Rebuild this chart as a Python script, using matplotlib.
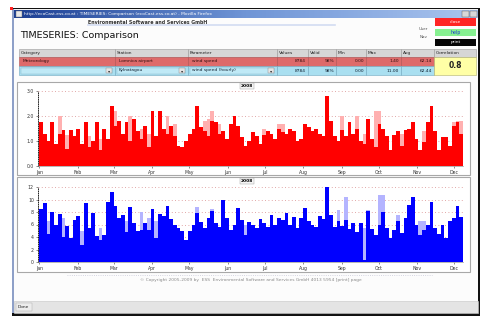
import numpy as np
import matplotlib
matplotlib.use('Agg')
import matplotlib.pyplot as plt
from matplotlib.patches import Rectangle

# daily wind speed, read in 3-day steps from the screenshot
top_dark = [1.75, 1.3, 1.0, 1.75, 0.9, 1.3, 1.45, 0.7, 1.45, 1.2,
            1.5, 0.9, 1.75, 0.75, 1.0, 1.75, 0.65, 1.5, 1.1, 2.4,
            1.6, 1.8, 1.3, 1.75, 1.0, 1.9, 1.4, 1.1, 1.6, 0.75,
            2.2, 1.2, 2.2, 1.5, 1.3, 1.6, 1.2, 0.8, 0.75, 1.0,
            1.3, 1.5, 2.4, 1.55, 1.4, 1.2, 1.8, 1.75, 1.3, 1.4,
            1.1, 1.7, 2.0, 1.6, 1.15, 0.8, 1.0, 1.35, 1.2, 0.9,
            1.25, 1.4, 1.3, 1.1, 1.5, 1.35, 1.3, 1.5, 1.4, 1.0,
            1.1, 1.7, 1.55, 1.4, 1.5, 1.3, 1.2, 2.8, 1.8, 1.2,
            1.0, 1.45, 1.2, 1.75, 1.3, 1.5, 1.0, 0.9, 1.9, 1.1,
            0.75, 1.7, 1.5, 1.2, 0.65, 1.25, 1.4, 0.8, 1.45, 1.5,
            1.75, 1.1, 0.65, 0.95, 1.75, 2.4, 1.4, 0.65, 1.15, 1.15,
            0.8, 1.6, 1.75, 1.3]
top_light_bin = [5, 7, 13, 16, 20, 24, 27, 29, 34, 36, 44, 45, 46, 48, 60, 64, 65,
                 81, 85, 87, 90, 91, 97, 103, 111, 112, 113]
top_light_val = [2.0, 1.25, 1.2, 1.1, 2.2, 2.0, 1.5, 1.3, 2.0, 1.7, 1.8, 1.9, 2.2, 1.7, 1.5, 1.7, 1.7,
                 2.0, 2.0, 1.3, 2.2, 2.2, 1.3, 1.4, 1.75, 1.8, 1.8]

bot_dark = [8.5, 9.4, 4.5, 8.0, 5.9, 7.7, 4.0, 5.8, 3.8, 6.7,
            7.4, 2.8, 9.4, 5.5, 7.9, 4.1, 3.5, 4.4, 9.6, 11.2,
            9.0, 7.0, 7.5, 4.8, 8.8, 6.2, 4.9, 5.1, 6.3, 5.2,
            8.5, 3.8, 7.7, 7.4, 9.0, 6.9, 5.9, 5.4, 5.0, 3.6,
            5.0, 5.9, 7.8, 6.4, 5.4, 7.0, 8.2, 6.2, 5.6, 9.9,
            7.0, 5.2, 6.0, 8.6, 6.8, 4.3, 6.4, 6.0, 5.4, 6.9,
            6.2, 5.6, 7.5, 5.9, 7.0, 6.8, 7.8, 5.9, 7.2, 5.4,
            7.0, 8.6, 6.5, 6.0, 5.6, 7.4, 6.9, 12.0, 7.5, 5.6,
            6.5, 5.8, 6.8, 5.3, 6.2, 4.8, 6.3, 0.3, 8.2, 5.3,
            4.3, 5.9, 8.0, 5.4, 3.8, 5.1, 6.5, 4.6, 7.0, 9.1,
            10.4, 6.0, 4.3, 5.2, 6.0, 9.6, 5.5, 4.5, 5.9, 3.8,
            6.5, 7.0, 9.0, 7.2]
bot_light_bin = [2, 6, 11, 16, 23, 27, 29, 31, 42, 46, 55, 80, 82, 87, 88, 91, 92, 96, 102, 103]
bot_light_val = [6.5, 7.0, 5.0, 5.5, 6.5, 8.0, 7.0, 6.5, 8.8, 8.5, 6.0, 8.3, 10.4, 5.5, 8.3, 10.7, 10.7, 7.5, 6.5, 6.5]

months = ['Jan', 'Feb', 'Mar', 'Apr', 'May', 'Jun', 'Jul', 'Aug', 'Sep', 'Oct', 'Nov', 'Dec']
month_start = [0, 31, 60, 91, 121, 152, 182, 213, 244, 274, 305, 335]

top_ticks = [0, 1, 2, 3]
top_ticklabels = ['0.0', '1.0', '2.0', '3.0']
bot_ticks = [0, 2, 4, 6, 8, 10, 12]

columns = ['Category', 'Station', 'Parameter', 'Values', 'Valid', 'Min', 'Max', 'Avg', 'Correlation']
row1 = ['Meteorology', 'Lomnica airport', 'wind speed', '8784', '98%', '0.00', '1.40', '62.14']
row2 = ['', 'Kylnatagou', 'wind speed (hourly)', '8784', '98%', '0.00', '11.00', '62.44']
correlation = '0.8'

W, H = 481, 316
STEP = 3

fig = plt.figure(figsize=(W / 100, H / 100), dpi=100)
bg = fig.add_axes([0, 0, 1, 1])
bg.set_xlim(0, W)
bg.set_ylim(H, 0)
bg.axis('off')


def box(x0, y0, x1, y1, fc, ec='none', lw=0.5, z=1, ls='-'):
    bg.add_patch(Rectangle((x0, y0), x1 - x0, y1 - y0, facecolor=fc, edgecolor=ec,
                           linewidth=lw, zorder=z, linestyle=ls))


def txt(x, y, s, size=3.6, color='#222222', ha='left', weight='normal', z=5):
    bg.text(x, y, s, fontsize=size, color=color, ha=ha, va='center', fontweight=weight, zorder=z)


def px_axes(x0, y0, x1, y1):
    return fig.add_axes([x0 / W, 1 - y1 / H, (x1 - x0) / W, (y1 - y0) / H])


# browser window
box(12, 8, 481, 316, '#f2f2f2', z=0)
box(12, 7.5, 481, 9, '#111111', z=1)
box(478, 8, 481, 316, '#111111', z=1)
box(12, 313, 481, 316, '#111111', z=1)
box(12, 9, 14, 313, '#8ea0c8', z=1)
box(10.5, 7, 13.5, 10, '#ff2020', z=2)
grad = np.linspace(0, 1, 200).reshape(1, -1)
bg.imshow(grad, extent=(14, 478, 18, 10), cmap=matplotlib.colors.LinearSegmentedColormap.from_list(
    'tb', ['#1c3f94', '#6f95d6', '#a9c4ee']), aspect='auto', zorder=2)
txt(24, 14, 'http://ecoCast.ess.co.at : TIMESERIES: Comparison (ecoCast.ess.co.at) - Mozilla Firefox',
    size=3.2, color='white')
box(16, 11, 22, 17, '#e8e8e8', ec='#666666', lw=0.3, z=3)
box(462, 11, 469, 17, '#d8d8d8', ec='#555555', lw=0.3, z=3)
box(470, 11, 477, 17, '#d8d8d8', ec='#555555', lw=0.3, z=3)
box(14, 18, 478, 301, '#fcfcfc', z=1)

# page header
bg.plot([88, 335], [25, 25], color='#d3dcf2', lw=1.2, zorder=2)
txt(88, 22, 'Environmental Software and Services GmbH', size=3.4, weight='bold', color='#333333')
txt(20, 36, 'TIMESERIES: Comparison', size=6.8, color='#111111')

box(435, 18, 476, 26, '#ff2424', z=2)
txt(455.5, 22, 'close', size=3.2, color='white', ha='center')
box(435, 29, 476, 36, '#86f090', z=2)
txt(455.5, 32.5, 'help', size=3.4, color='#2040d0', ha='center')
box(435, 39, 476, 46, '#050505', z=2)
txt(455.5, 42.5, 'print', size=3.2, color='white', ha='center')
txt(428, 29.5, 'User', size=3.0, color='#555555', ha='right')
txt(428, 37, 'Nav', size=3.0, color='#555555', ha='right')

# statistics table
edges = [19, 115, 188, 277, 308, 336, 366, 401, 434, 476]
for i, name in enumerate(columns):
    box(edges[i], 49, edges[i + 1], 56.5, '#d6d6d6', ec='#9a9a9a', lw=0.4, z=2)
    txt(edges[i] + 2, 52.8, name, size=3.2)
for i, val in enumerate(row1):
    box(edges[i], 57, edges[i + 1], 65.5, '#de6a6a', ec='#b05050', lw=0.4, z=2)
    if i < 3:
        txt(edges[i] + 4, 61.2, val, size=3.2, color='#301010')
    else:
        txt(edges[i + 1] - 2, 61.2, val, size=3.2, color='#301010', ha='right')
for i, val in enumerate(row2):
    box(edges[i], 66, edges[i + 1], 75, '#a9dff0', ec='#70a8c0', lw=0.4, z=2)
    if i < 3:
        inner_end = edges[i + 1] - 3
        box(edges[i] + 2, 67.5, inner_end, 73.5, '#bfe9f6', ec='#8ab8c8', lw=0.3, z=3)
        box(inner_end - 6, 67.8, inner_end - 0.3, 73.2, '#e6e6e6', ec='#888888', lw=0.3, z=4)
        txt(inner_end - 3.2, 70.6, '\u25be', size=3.2, color='#333333', ha='center')
        txt(edges[i] + 4, 70.5, val, size=3.2, color='#102030')
    else:
        txt(edges[i + 1] - 2, 70.5, val, size=3.2, color='#102030', ha='right')
box(434, 57, 476, 75, '#ffffa6', ec='#b0b070', lw=0.4, z=3)
txt(455, 66, correlation, size=5.5, weight='bold', color='#222222', ha='center')

# chart panels
box(17, 82, 470, 175, 'white', ec='#a8a8a8', lw=0.8, z=2)
box(17, 177, 470, 272, 'white', ec='#a8a8a8', lw=0.8, z=2)
bg.plot([67, 432], [274.5, 274.5], color='#c8c8d8', lw=0.6, ls=':', zorder=2)


def draw_chart(ax, dark, light_bin, light_val, c_dark, c_light, ticks, ticklabels, top):
    x_dark = np.arange(len(dark)) * STEP
    x_light = np.array(light_bin) * STEP
    ax.bar(x_light, light_val, width=STEP, align='edge', color=c_light, linewidth=0, zorder=2)
    ax.bar(x_dark, dark, width=STEP, align='edge', color=c_dark, linewidth=0, zorder=3)
    ax.set_xlim(-1, 342)
    ax.set_ylim(0, top)
    ax.set_xticks(month_start)
    ax.set_xticklabels(months)
    ax.set_yticks(ticks)
    ax.set_yticklabels(ticklabels)
    ax.tick_params(labelsize=3.3, length=1.5, width=0.4, pad=1.5, colors='#333333')
    ax.yaxis.grid(True, linestyle=(0, (1, 3)), color='#d88a8a', linewidth=0.6, zorder=1)
    ax.set_axisbelow(True)
    for s in ['top', 'right']:
        ax.spines[s].set_visible(False)
    ax.spines['left'].set_linestyle(':')
    ax.spines['left'].set_linewidth(0.6)
    ax.spines['bottom'].set_color('#999999')
    ax.spines['bottom'].set_linewidth(0.5)
    ax.set_facecolor('white')


ax1 = px_axes(38, 91, 463, 166)
draw_chart(ax1, top_dark, top_light_bin, top_light_val, '#ff0000', '#ffb0b0',
           top_ticks, top_ticklabels, 3)
ax2 = px_axes(38, 187, 463, 262)
draw_chart(ax2, bot_dark, bot_light_bin, bot_light_val, '#0000ff', '#b4b4ff',
           bot_ticks, [str(t) for t in bot_ticks], 12)

for y in [86, 181]:
    bg.text(247, y, '2008', fontsize=3.2, fontweight='bold', ha='center', va='center', zorder=5,
            bbox=dict(boxstyle='square,pad=0.2', fc='#f4f4f4', ec='#999999', lw=0.3))

txt(251, 280, '\u00a9 Copyright 2005-2009 by  ESS  Environmental Software and Services GmbH 4013 5954 [print] page',
    size=3.2, color='#8a8a8a', ha='center')

# status bar
box(14, 301, 478, 312.5, '#e4e4e4', ec='#c8c8c8', lw=0.4, z=2)
box(16, 302.5, 32, 311, '#ececec', ec='#aaaaaa', lw=0.3, z=3)
txt(18, 306.8, 'Done', size=3.2, color='#222222')

fig.savefig('out.png', dpi=100)
